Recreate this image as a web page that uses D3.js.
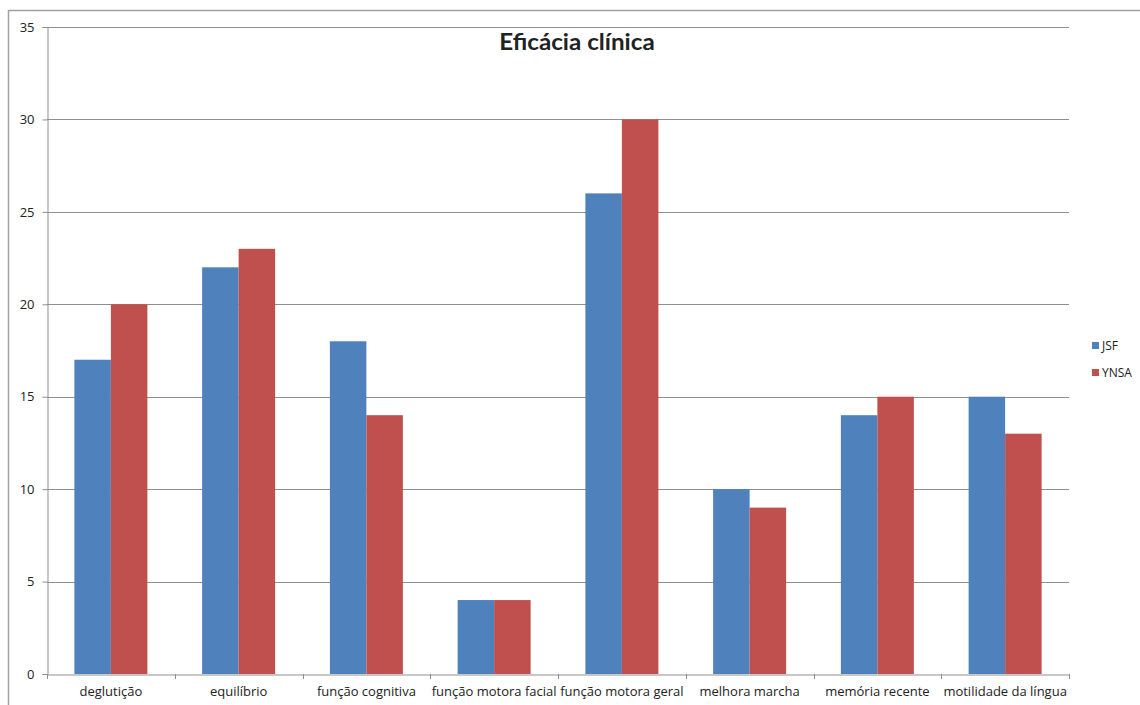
<!DOCTYPE html>
<html>
<head>
<meta charset="utf-8">
<script src="https://cdn.jsdelivr.net/npm/d3@7/dist/d3.min.js"></script>
<style>
  html, body { margin: 0; padding: 0; background: #fff; }
  svg { display: block; }
  text { font-family: "Open Sans", Lato, sans-serif; fill: #222; }
</style>
</head>
<body>
<svg id="chart" width="1140" height="705"></svg>
<script>
// Chart data
const categories = ["deglutição", "equilíbrio", "função cognitiva", "função motora facial",
                    "função motora geral", "melhora marcha", "memória recente", "motilidade da língua"];
const seriesNames = ["JSF", "YNSA"];
const jsfValues  = [17, 22, 18, 4, 26, 10, 14, 15];
const ynsaValues = [20, 23, 14, 4, 30, 9, 15, 13];
const yTicks = [0, 5, 10, 15, 20, 25, 30, 35];
const chartTitle = "Eficácia clínica";

const colors = ["#4F81BD", "#C0504D"];
const series = [jsfValues, ynsaValues];
const labelFont = "'Open Sans', Lato, sans-serif";

const svg = d3.select("#chart");

// Outer frame of the chart area
svg.append("rect")
  .attr("x", 8.5).attr("y", 10.5)
  .attr("width", 1140).attr("height", 700)
  .attr("fill", "#fff").attr("stroke", "#a0a0a0").attr("stroke-width", 1.5);

const plot = { left: 47, right: 1069, top: 27, bottom: 674 };

const x = d3.scaleBand().domain(categories).range([plot.left, plot.right]).paddingInner(0).paddingOuter(0);
const y = d3.scaleLinear().domain([0, 35]).range([plot.bottom, plot.top]);

// Horizontal gridlines
svg.append("g").selectAll("line").data(yTicks.filter(d => d > 0)).join("line")
  .attr("x1", plot.left).attr("x2", plot.right)
  .attr("y1", d => Math.round(y(d)) + 0.5).attr("y2", d => Math.round(y(d)) + 0.5)
  .attr("stroke", "#8f8f8f").attr("stroke-width", 1);

// Bars: clustered columns with a 150% gap width
const inner = d3.scaleBand().domain(seriesNames).range([0, x.bandwidth()]).paddingOuter(0.75).paddingInner(0);

const groups = svg.append("g").selectAll("g").data(categories).join("g")
  .attr("transform", d => `translate(${x(d)},0)`);

groups.selectAll("rect")
  .data((c, i) => seriesNames.map((s, k) => ({ s, v: series[k][i], k })))
  .join("rect")
  .attr("x", d => inner(d.s))
  .attr("width", inner.bandwidth())
  .attr("y", d => y(d.v))
  .attr("height", d => y(0) - y(d.v))
  .attr("fill", d => colors[d.k]);

// Y axis
const yAxis = svg.append("g")
  .attr("transform", `translate(${plot.left + 0.5},0)`)
  .call(d3.axisLeft(y).tickValues(yTicks).tickSize(5).tickPadding(8).tickFormat(d3.format("d")));
yAxis.select(".domain").attr("stroke", "#8f8f8f");
yAxis.selectAll(".tick line").attr("stroke", "#8f8f8f");
yAxis.selectAll(".tick text").attr("font-size", 13).attr("fill", "#222")
  .style("font-family", labelFont);

// X axis
const xAxis = svg.append("g")
  .attr("transform", `translate(0,${plot.bottom + 0.5})`)
  .call(d3.axisBottom(x).tickSize(0).tickPadding(12));
xAxis.select(".domain").attr("stroke", "#8f8f8f");
xAxis.selectAll(".tick text").attr("font-size", 13).attr("fill", "#222")
  .style("font-family", labelFont);
// Category separator tick marks
svg.append("g").selectAll("line")
  .data(categories.map(c => x(c)).concat([x(categories[categories.length - 1]) + x.bandwidth()]))
  .join("line")
  .attr("x1", d => Math.round(d) + 0.5).attr("x2", d => Math.round(d) + 0.5)
  .attr("y1", plot.bottom).attr("y2", plot.bottom + 5)
  .attr("stroke", "#8f8f8f");

// Title
svg.append("text")
  .attr("x", 577).attr("y", 50)
  .attr("text-anchor", "middle")
  .attr("font-size", 22).attr("font-weight", "bold")
  .style("font-family", "Lato, 'Open Sans', sans-serif")
  .attr("transform", "translate(577,0) scale(1.1,1) translate(-577,0)")
  .text(chartTitle);

// Legend
const legend = svg.append("g").attr("transform", "translate(1092,342)");
seriesNames.forEach((name, i) => {
  const g = legend.append("g").attr("transform", `translate(0,${i * 27})`);
  g.append("rect").attr("width", 7).attr("height", 7).attr("fill", colors[i]);
  g.append("text").attr("x", 10).attr("y", 8).attr("font-size", 12).text(name);
});
</script>
</body>
</html>
